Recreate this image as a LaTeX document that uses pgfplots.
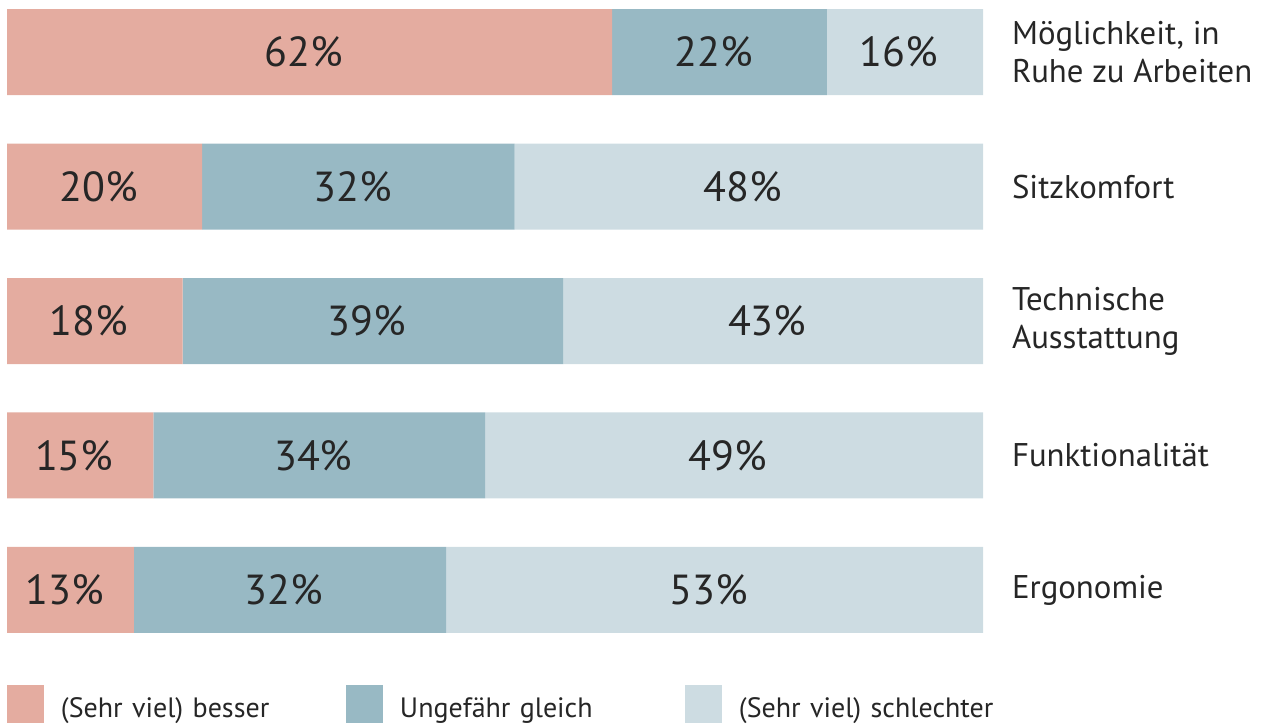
\documentclass[border=0pt]{standalone}
\usepackage{pgfplots}
\pgfplotsset{compat=1.18}
\usepackage{pgfplotstable}
\usepackage{fontspec}
\setmainfont{PT Sans}
\definecolor{cA}{HTML}{E4ACA0}
\definecolor{cB}{HTML}{98B9C4}
\definecolor{cC}{HTML}{CDDCE2}
\definecolor{txt}{HTML}{262626}
\pgfplotstableread{
y a la b lb c lc
0 62 62 22 22 16 16
1 20 20 32 32 48 48
2 18 18 39 39 43 43
3 15 15 34 34 51 49
4 13 13 32 32 55 53
}\data
\begin{document}
\begin{tikzpicture}
\useasboundingbox (-3.5pt,-45.5pt) rectangle (629.5pt,316.5pt);
\begin{axis}[
  at={(0,0)}, anchor=south west,
  scale only axis, width=488pt, height=312pt,
  xbar stacked, bar width=43pt,
  xmin=0, xmax=100, ymin=-0.32, ymax=4.32, y dir=reverse,
  axis line style={draw=none}, major tick style={draw=none},
  xtick=\empty, ytick={0,1,2,3,4},
  yticklabel pos=right,
  yticklabels={{Möglichkeit, in\\Ruhe zu Arbeiten},Sitzkomfort,{Technische\\Ausstattung},Funktionalität,Ergonomie},
  yticklabel style={anchor=west, align=left, xshift=11pt, text=txt, font=\fontsize{16.4}{19}\selectfont},
  clip=false,
  nodes near coords={\pgfmathprintnumber[fixed,precision=0,assume math mode=true]{\lbl}\%},
  every node near coord/.append style={anchor=center, xshift=-3pt, text=txt, font=\fontsize{21}{24}\selectfont},
  legend columns=3,
  legend style={at={(rel axis cs:0,0)}, anchor=north west, yshift=-26pt, draw=none, fill=none, inner sep=0pt, outer sep=0pt,
    /tikz/every odd column/.style={column sep=8.5pt},
    /tikz/every even column/.style={column sep=0pt},
    nodes={text width=142.5pt, align=left, inner sep=0pt, anchor=west, yshift=-2.5pt, text=txt, font=\fontsize{14}{17}\selectfont}},
  legend image code/.code={\fill[#1] (0pt,-9.5pt) rectangle (18.5pt,9.5pt);},
]
\addplot[fill=cA, draw=none, visualization depends on={\thisrow{la} \as \lbl}] table[x=a,y=y] {\data};
\addlegendentry{(Sehr viel) besser}
\addplot[fill=cB, draw=none, visualization depends on={\thisrow{lb} \as \lbl}] table[x=b,y=y] {\data};
\addlegendentry{Ungefähr gleich}
\addplot[fill=cC, draw=none, visualization depends on={\thisrow{lc} \as \lbl}] table[x=c,y=y] {\data};
\addlegendentry{(Sehr viel) schlechter}
\end{axis}
\end{tikzpicture}
\end{document}
